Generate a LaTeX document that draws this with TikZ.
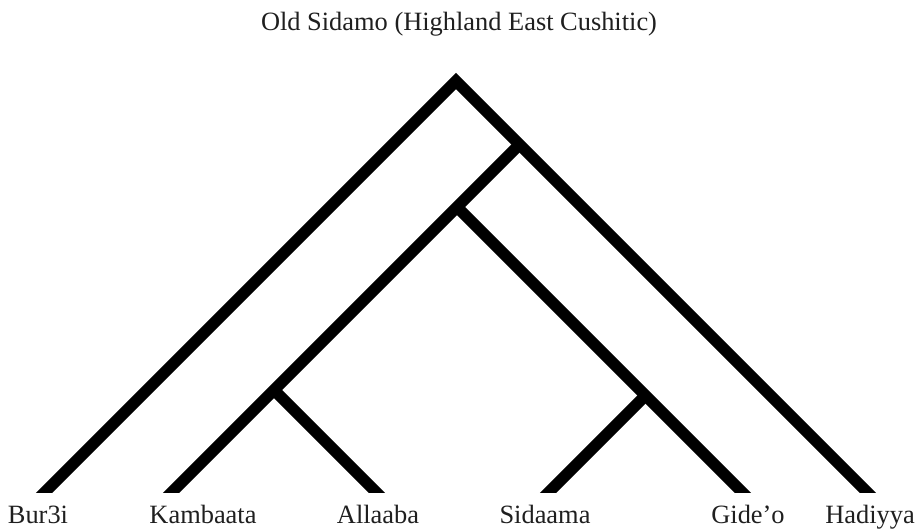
\documentclass[tikz,border=0pt]{standalone}
\usepackage{fontspec}
\setmainfont{Liberation Serif}
\begin{document}
\begin{tikzpicture}[x=1pt,y=-1pt,
  branch/.style={line width=11.5pt, line join=miter, black},
  leafend/.style={shorten >=-14pt},
  lab/.style={anchor=base, inner sep=0pt, text=black!88, font=\fontsize{26.4}{30}\selectfont}]
\useasboundingbox (0,0) rectangle (919,532);
% leaves
\coordinate (bur) at (45,492);
\coordinate (kam) at (172,492);
\coordinate (all) at (376,492);
\coordinate (sid) at (549,492);
\coordinate (gid) at (742,492);
\coordinate (had) at (867,492);
% internal nodes
\coordinate (A) at (456,81);
\coordinate (B) at (519.5,144.5);
\coordinate (C) at (457,207);
\coordinate (D) at (274,390);
\coordinate (E) at (645.5,395.5);
\begin{scope}
\clip (0,0) rectangle (919,492);
\draw[branch, shorten <=-14pt, shorten >=-14pt] (bur) -- (A) -- (had);
\draw[branch, leafend] (B) -- (kam);
\draw[branch, leafend] (C) -- (gid);
\draw[branch, leafend] (D) -- (all);
\draw[branch, leafend] (E) -- (sid);
\end{scope}
% labels
\node[lab] (title) at (459,31) {Old Sidamo (Highland East Cushitic)};
\node[lab] (lbur) at (38,523) {Bur3i};
\node[lab] (lkam) at (203,523) {Kambaata};
\node[lab] (lall) at (378,523) {Allaaba};
\node[lab] (lsid) at (545,523) {Sidaama};
\node[lab] (lgid) at (748,523) {Gide’o};
\node[lab] (lhad) at (870,523) {Hadiyya};
\end{tikzpicture}
\end{document}
